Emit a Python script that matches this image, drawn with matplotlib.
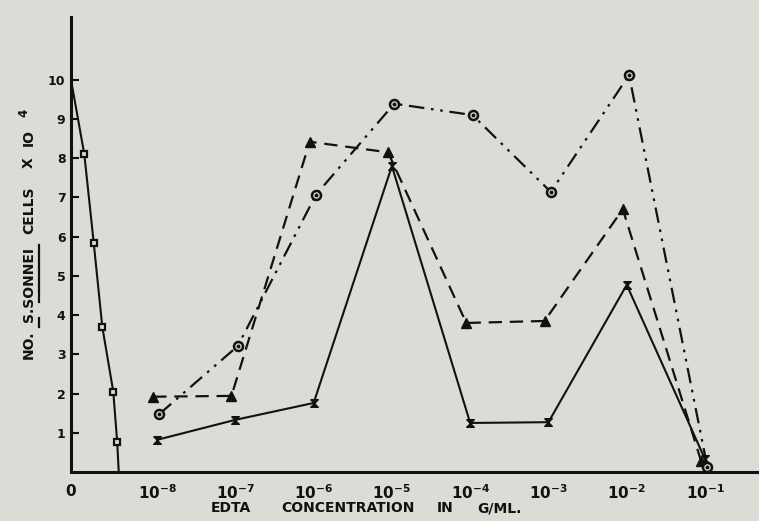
import numpy as np
import matplotlib
matplotlib.use("Agg")
import matplotlib.pyplot as plt

# data (x in tick units: "0" at 0, 10^-8 at 1.1, one unit per decade)
conc_labels = ["$\\mathbf{10^{-8}}$", "$\\mathbf{10^{-7}}$", "$\\mathbf{10^{-6}}$", "$\\mathbf{10^{-5}}$",
               "$\\mathbf{10^{-4}}$", "$\\mathbf{10^{-3}}$", "$\\mathbf{10^{-2}}$", "$\\mathbf{10^{-1}}$"]
conc_pos = [1.1, 2.1, 3.1, 4.1, 5.1, 6.1, 7.1, 8.1]

circles = [1.48, 3.21, 7.07, 9.39, 9.1, 7.14, 10.12, 0.13]
triangles = [1.92, 1.94, 8.42, 8.15, 3.8, 3.85, 6.7, 0.28]
crosses = [0.82, 1.33, 1.76, 7.8, 1.25, 1.27, 4.77, 0.33]

# control curve near zero
sq_x = [0.0, 0.17, 0.29, 0.40, 0.54, 0.59, 0.61]
sq_y = [10.0, 8.1, 5.85, 3.7, 2.05, 0.77, 0.0]

bg = "#dcdcd6"
ink = "#111111"
W, H = 759, 521

fig = plt.figure(figsize=(W / 100, H / 100), dpi=100, facecolor=bg)
ax = fig.add_axes([71 / W, 49 / H, 1 - 71 / W, 455 / H])
ax.set_facecolor(bg)


def fx(px):
    return px / W


def fy(py):
    return (H - py) / H


x = np.array(conc_pos)

# solid line, hourglass markers
hourglass = [(-1, 1), (1, 1), (-1, -1), (1, -1), (-1, 1)]
ax.plot(x, crosses, color=ink, lw=1.5, marker=hourglass, ms=5.5, mfc=ink, mec=ink, zorder=3)

# dashed line, filled triangles
ax.plot(x - 0.05, triangles, color=ink, lw=1.6, dashes=(6, 3.5), marker="^", ms=6.5,
        mfc=ink, mec=ink, zorder=3)

# dash-dot-dot line, dotted circles
ax.plot(x + 0.03, circles, color=ink, lw=1.6, dashes=(7, 3, 1.2, 3, 1.2, 3),
        marker="o", ms=6.5, mfc=bg, mec=ink, mew=1.8, zorder=4)
ax.plot(x + 0.03, circles, ls="none", marker="o", ms=1.8, color=ink, zorder=5)

# squares on the left
ax.plot(sq_x, sq_y, color=ink, lw=1.5, marker="s", ms=5, mfc=bg, mec=ink, mew=1.6,
        markevery=[1, 2, 3, 4, 5], zorder=3)

ax.set_xlim(0, 8.79)
ax.set_ylim(0, 11.6)

for side in ["top", "right"]:
    ax.spines[side].set_visible(False)
for side in ["left", "bottom"]:
    ax.spines[side].set_linewidth(2.2)
    ax.spines[side].set_color(ink)

ax.set_yticks(range(1, 11))
ax.set_yticklabels([str(i) for i in range(1, 11)], fontsize=9, fontweight="bold", color=ink)
ax.tick_params(axis="y", direction="in", length=6, width=1.5, pad=4, colors=ink)

ax.set_xticks([0] + conc_pos)
ax.set_xticklabels(["$\\mathbf{0}$"] + conc_labels, fontsize=11, color=ink)
ax.tick_params(axis="x", length=0, pad=8)

# x label, word by word
xl_kw = dict(fontsize=10, fontweight="bold", color=ink, ha="center", va="center")
for word, cx in [("EDTA", 231), ("CONCENTRATION", 348), ("IN", 445), ("G/ML.", 499)]:
    fig.text(fx(cx), fy(508), word, **xl_kw)

# y label, word by word, with underlined species name
yl_kw = dict(rotation=90, fontsize=10, fontweight="bold", color=ink, ha="center", va="center")
for word, cy in [("NO.", 345), ("S.SONNEI", 284), ("CELLS", 210), ("X", 163), ("IO", 137)]:
    fig.text(fx(29), fy(cy), word, **yl_kw)
fig.text(fx(24), fy(113), "4", rotation=90, fontsize=8.5, fontweight="bold", color=ink,
         ha="center", va="center")
fig.add_artist(plt.Line2D([fx(38.5), fx(38.5)], [fy(302), fy(245)], color=ink, lw=1.6,
                          transform=fig.transFigure))
fig.add_artist(plt.Line2D([fx(38.5), fx(38.5)], [fy(327), fy(318)], color=ink, lw=1.6,
                          transform=fig.transFigure))

fig.savefig("out.png", dpi=100, facecolor=bg)
